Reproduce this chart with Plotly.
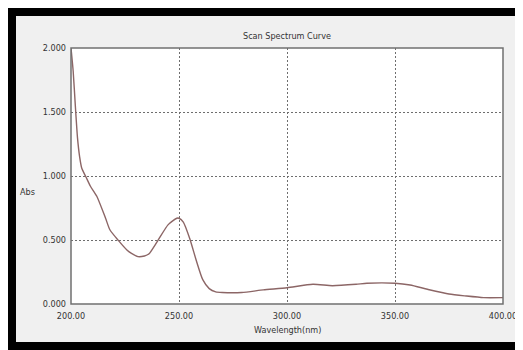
import plotly.graph_objects as go

wavelength = [200, 201, 202, 203, 204, 205, 207, 209, 212, 216, 218, 222, 226, 228, 231, 234, 236,
              240, 245, 249, 250, 252, 255, 258, 261, 264, 267, 270, 279, 289, 300, 312, 321, 332,
              337, 350, 357, 365, 375, 383, 391, 400]
absorbance = [2.0, 1.82, 1.55, 1.3, 1.15, 1.06, 0.99, 0.92, 0.84, 0.67, 0.58, 0.495, 0.42, 0.395,
              0.37, 0.375, 0.39, 0.49, 0.62, 0.67, 0.67, 0.64, 0.51, 0.34, 0.19, 0.12, 0.095, 0.09,
              0.09, 0.11, 0.127, 0.154, 0.143, 0.154, 0.162, 0.162, 0.148, 0.115, 0.078, 0.0625,
              0.05, 0.05]
x_ticks = [200, 250, 300, 350, 400]
y_ticks = [0.0, 0.5, 1.0, 1.5, 2.0]

# page has an 8px body margin; figure fills the rest of the 523x350 window
OFF = 8
W, H = 523 - OFF, 350 - OFF
L, R, T, B = 71 - OFF, 503 - OFF, 48 - OFF, 304 - OFF  # plot area in figure pixels


def px(x):  # screenshot x -> paper
    return (x - OFF - L) / (R - L)


def py(y):  # screenshot y -> paper
    return (B - (y - OFF)) / (B - T)


FONT = "DejaVu Sans Condensed, Liberation Sans, Arial, sans-serif"
TXT = "#333333"

fig = go.Figure()
fig.add_trace(go.Scatter(x=wavelength, y=absorbance, mode="lines",
                         line=dict(color="#8c6666", width=1.4, shape="spline", smoothing=0.6),
                         hoverinfo="skip", showlegend=False))

black = dict(type="rect", xref="paper", yref="paper", fillcolor="black", line_width=0, layer="below")
shapes = [
    dict(black, x0=px(8), x1=px(540), y0=py(16), y1=py(8)),     # top band
    dict(black, x0=px(8), x1=px(16), y0=py(360), y1=py(8)),     # left band
    dict(black, x0=px(8), x1=px(540), y0=py(360), y1=py(342)),  # bottom band
    dict(type="rect", xref="paper", yref="paper", x0=0, x1=1, y0=0, y1=1,
         line=dict(color="#707070", width=1.5), layer="above"),
]

fig.update_layout(
    width=W, height=H,
    margin=dict(l=L, r=W - R, t=T, b=H - B, pad=0, autoexpand=False),
    paper_bgcolor="#f0f0f0",
    plot_bgcolor="white",
    shapes=shapes,
    font=dict(family=FONT, size=9, color=TXT),
    xaxis=dict(range=[200, 400], tickvals=x_ticks, tickformat=".2f", automargin=False,
               showgrid=True, gridcolor="#6e6e6e", griddash="2px,2px", gridwidth=1,
               zeroline=False, showline=False, ticks="", ticklabelstandoff=5,
               tickfont=dict(family=FONT, size=9, color=TXT)),
    yaxis=dict(range=[0, 2.0], tickvals=y_ticks, tickformat=".3f", automargin=False,
               showgrid=True, gridcolor="#6e6e6e", griddash="2px,2px", gridwidth=1,
               zeroline=False, showline=False, ticks="", ticklabelstandoff=4,
               tickfont=dict(family=FONT, size=9, color=TXT)),
    annotations=[
        dict(text="Scan Spectrum Curve", xref="paper", yref="paper", x=px(287), y=py(36),
             showarrow=False, font=dict(family=FONT, size=9, color=TXT),
             xanchor="center", yanchor="middle"),
        dict(text="Wavelength(nm)", xref="paper", yref="paper", x=px(287), y=py(330),
             showarrow=False, font=dict(family=FONT, size=9, color=TXT),
             xanchor="center", yanchor="middle"),
        dict(text="Abs", xref="paper", yref="paper", x=px(27), y=py(192),
             showarrow=False, font=dict(family=FONT, size=9, color=TXT),
             xanchor="center", yanchor="middle"),
    ],
)

hide_scroll = (
    "var s=document.createElement('style');"
    "s.textContent='html,body{overflow:hidden !important;}"
    "::-webkit-scrollbar{width:0 !important;height:0 !important;display:none;}';"
    "document.head.appendChild(s);"
)

fig.write_html("out.html", post_script=hide_scroll)
